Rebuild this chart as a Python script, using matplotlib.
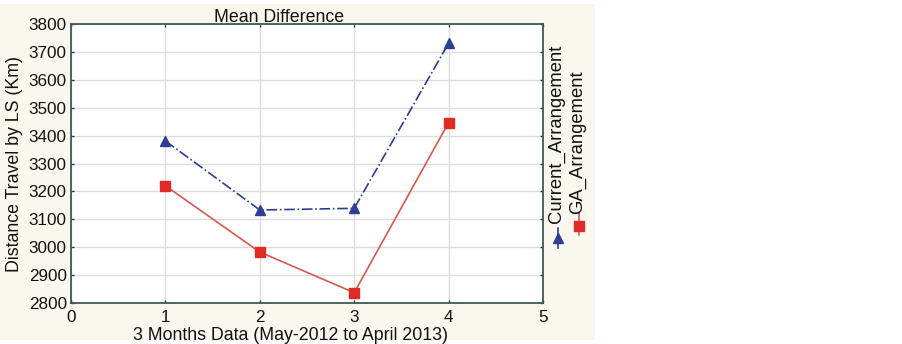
import matplotlib.pyplot as plt
from matplotlib.lines import Line2D
from matplotlib.patches import Rectangle

plt.rcParams['font.family'] = ['Liberation Sans', 'DejaVu Sans']

# data
periods = [1, 2, 3, 4]
current_arr = [3381, 3133, 3139, 3732]
ga_arr = [3220, 2982, 2836, 3447]

xticks = [0, 1, 2, 3, 4, 5]
yticks = list(range(2800, 3801, 100))

W, H = 902, 344
fig = plt.figure(figsize=(W / 100, H / 100), dpi=100)
fig.patch.set_facecolor("white")

# cream panel behind the chart
fig.add_artist(Rectangle((0, 4 / H), 595 / W, 336 / H, transform=fig.transFigure,
                         facecolor="#faf8ee", edgecolor="none", zorder=-10))

ax = fig.add_axes([71 / W, 1 - 302.7 / H, 472 / W, 278.4 / H])
ax.set_facecolor("white")

blue = "#2b3f96"
red_line = "#d9574c"
red_mark = "#e02a25"

ax.plot(periods, current_arr, color=blue, linestyle="-.", linewidth=1.2,
        marker="^", markersize=7, markerfacecolor=blue, markeredgecolor=blue, zorder=3)
ax.plot(periods, ga_arr, color=red_line, linestyle="-", linewidth=1.2,
        marker="s", markersize=7.5, markerfacecolor=red_mark, markeredgecolor=red_mark, zorder=3)

ax.set_xlim(0, 5)
ax.set_ylim(2800, 3800)
ax.set_xticks(xticks)
ax.set_yticks(yticks)
ax.grid(True, color="#dcdcdc", linewidth=1)
ax.set_axisbelow(True)

for s in ax.spines.values():
    s.set_color("#3e5a52")
    s.set_linewidth(1.3)

ax.tick_params(axis="both", direction="in", length=2, width=1, color="#2f3f3a",
               labelsize=12.3, labelcolor="#111111", top=True, right=True)
ax.tick_params(axis="x", pad=5)
ax.tick_params(axis="y", pad=3)

ax.set_title("Mean Difference", fontsize=12.8, color="#111111", x=0.44, pad=2)
ax.set_xlabel("3 Months Data (May-2012 to April 2013)", fontsize=12.8, color="#111111")
ax.xaxis.set_label_coords(0.465, -0.088)
ax.set_ylabel("Distance Travel by LS (Km)", fontsize=12.8, color="#111111")
ax.yaxis.set_label_coords(-0.102, 0.5)

# rotated legend on the right
fig.text(556 / W, 1 - 223 / H, "Current_Arrangement", rotation=90, ha="center", va="bottom",
         fontsize=13.3, color="#111111")
fig.text(578 / W, 1 - 214 / H, "GA_Arrangement", rotation=90, ha="center", va="bottom",
         fontsize=13.3, color="#111111")
fig.add_artist(Line2D([558 / W, 558 / W], [1 - 228 / H, 1 - 248 / H], transform=fig.transFigure,
                      color=blue, linestyle="-", linewidth=1.2))
fig.add_artist(Line2D([558 / W], [1 - 238 / H], transform=fig.transFigure,
                      color=blue, marker="^", markersize=7, linestyle="none"))
fig.add_artist(Line2D([579 / W, 579 / W], [1 - 213 / H, 1 - 235 / H], transform=fig.transFigure,
                      color=red_line, linestyle="-", linewidth=1.2))
fig.add_artist(Line2D([579 / W], [1 - 226 / H], transform=fig.transFigure,
                      color=red_mark, marker="s", markersize=7.5, linestyle="none"))

fig.savefig("out.png", dpi=100)
